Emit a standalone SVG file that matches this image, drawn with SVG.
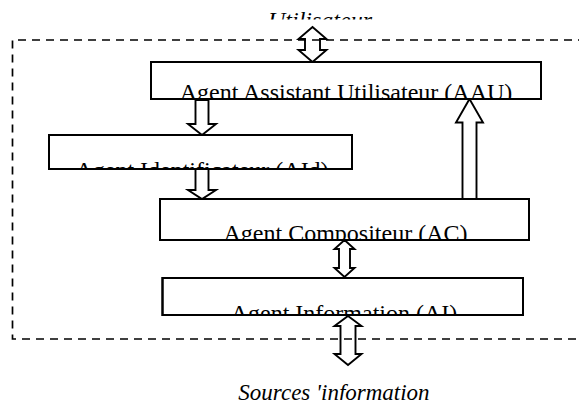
<svg xmlns="http://www.w3.org/2000/svg" width="579" height="400" viewBox="0 0 579 400">
  <style>
    .box { fill: #ffffff; stroke: #000000; stroke-width: 2; }
    .lbl { font-family: "Liberation Serif", "Times New Roman", serif; font-size: 24px; fill: #000000; text-anchor: middle; }
    .ext { font-family: "Liberation Serif", "Times New Roman", serif; font-size: 23px; font-style: italic; fill: #000000; text-anchor: middle; }
    .arrow { fill: #ffffff; stroke: #000000; stroke-width: 1.9; stroke-linejoin: miter; }
    .frame { fill: none; stroke: #000000; stroke-width: 1.7; stroke-dasharray: 8 6; }
  </style>
  <defs>
    <clipPath id="clipUser" clipPathUnits="userSpaceOnUse"><rect x="200" y="0" width="250" height="19.5"/></clipPath>
    <clipPath id="clipAAU" clipPathUnits="userSpaceOnUse"><rect x="151" y="62" width="390" height="37"/></clipPath>
    <clipPath id="clipAId" clipPathUnits="userSpaceOnUse"><rect x="49" y="135" width="303" height="34"/></clipPath>
    <clipPath id="clipAC" clipPathUnits="userSpaceOnUse"><rect x="160" y="199" width="369" height="41"/></clipPath>
    <clipPath id="clipAI" clipPathUnits="userSpaceOnUse"><rect x="162.5" y="278" width="360.5" height="37"/></clipPath>
  </defs>

  <rect width="579" height="400" fill="#ffffff"/>

  <!-- external actors -->
  <g id="utilisateur">
    <text class="ext" x="320" y="28" style="font-size:24px" clip-path="url(#clipUser)">Utilisateur</text>
  </g>
  <g id="sources">
    <text class="ext" x="334" y="400">Sources 'information</text>
  </g>

  <!-- block arrows between agents -->
  <g id="connectors">
    <polygon class="arrow" points="312.5,27 326.5,39 320,39 320,50 326.5,50 312.5,62 298.5,50 305,50 305,39 298.5,39"/>
    <polygon class="arrow" points="195.5,100 208.5,100 208.5,124 216,124 202,135 188,124 195.5,124"/>
    <polygon class="arrow" points="195.5,169 208.5,169 208.5,190 216,190 202,199 188,190 195.5,190"/>
    <polygon class="arrow" points="469.5,99 483,122.5 476.5,122.5 476.5,199 462.5,199 462.5,122.5 456,122.5"/>
    <polygon class="arrow" points="344.5,240 354.5,249 350,249 350,268 354.5,268 344.5,277 334.5,268 339,268 339,249 334.5,249"/>
    <polygon class="arrow" points="348,316 361.5,326 355.5,326 355.5,354 361.5,354 348,365 334.5,354 340.5,354 340.5,326 334.5,326"/>
  </g>

  <!-- agents: white box, label clipped to the box, border on top -->
  <g id="aau">
    <rect class="box" x="151" y="62" width="390" height="37"/>
    <text class="lbl" x="346" y="100" clip-path="url(#clipAAU)">Agent Assistant Utilisateur (AAU)</text>
    <rect x="151" y="62" width="390" height="37" fill="none" stroke="#000" stroke-width="2"/>
  </g>
  <g id="aid">
    <rect class="box" x="49" y="135" width="303" height="34"/>
    <text class="lbl" x="202" y="178" clip-path="url(#clipAId)">Agent Identificateur (AId)</text>
    <rect x="49" y="135" width="303" height="34" fill="none" stroke="#000" stroke-width="2"/>
  </g>
  <g id="ac">
    <rect class="box" x="160" y="199" width="369" height="41"/>
    <text class="lbl" x="345.5" y="241" clip-path="url(#clipAC)">Agent Compositeur (AC)</text>
    <rect x="160" y="199" width="369" height="41" fill="none" stroke="#000" stroke-width="2"/>
  </g>
  <g id="ai">
    <rect class="box" x="162.5" y="278" width="360.5" height="37"/>
    <text class="lbl" x="344" y="321" clip-path="url(#clipAI)">Agent Information (AI)</text>
    <rect x="162.5" y="278" width="360.5" height="37" fill="none" stroke="#000" stroke-width="2"/>
  </g>

  <!-- system boundary, open on the right -->
  <path class="frame" d="M 600 40 H 12.5 V 339 H 600"/>
</svg>
